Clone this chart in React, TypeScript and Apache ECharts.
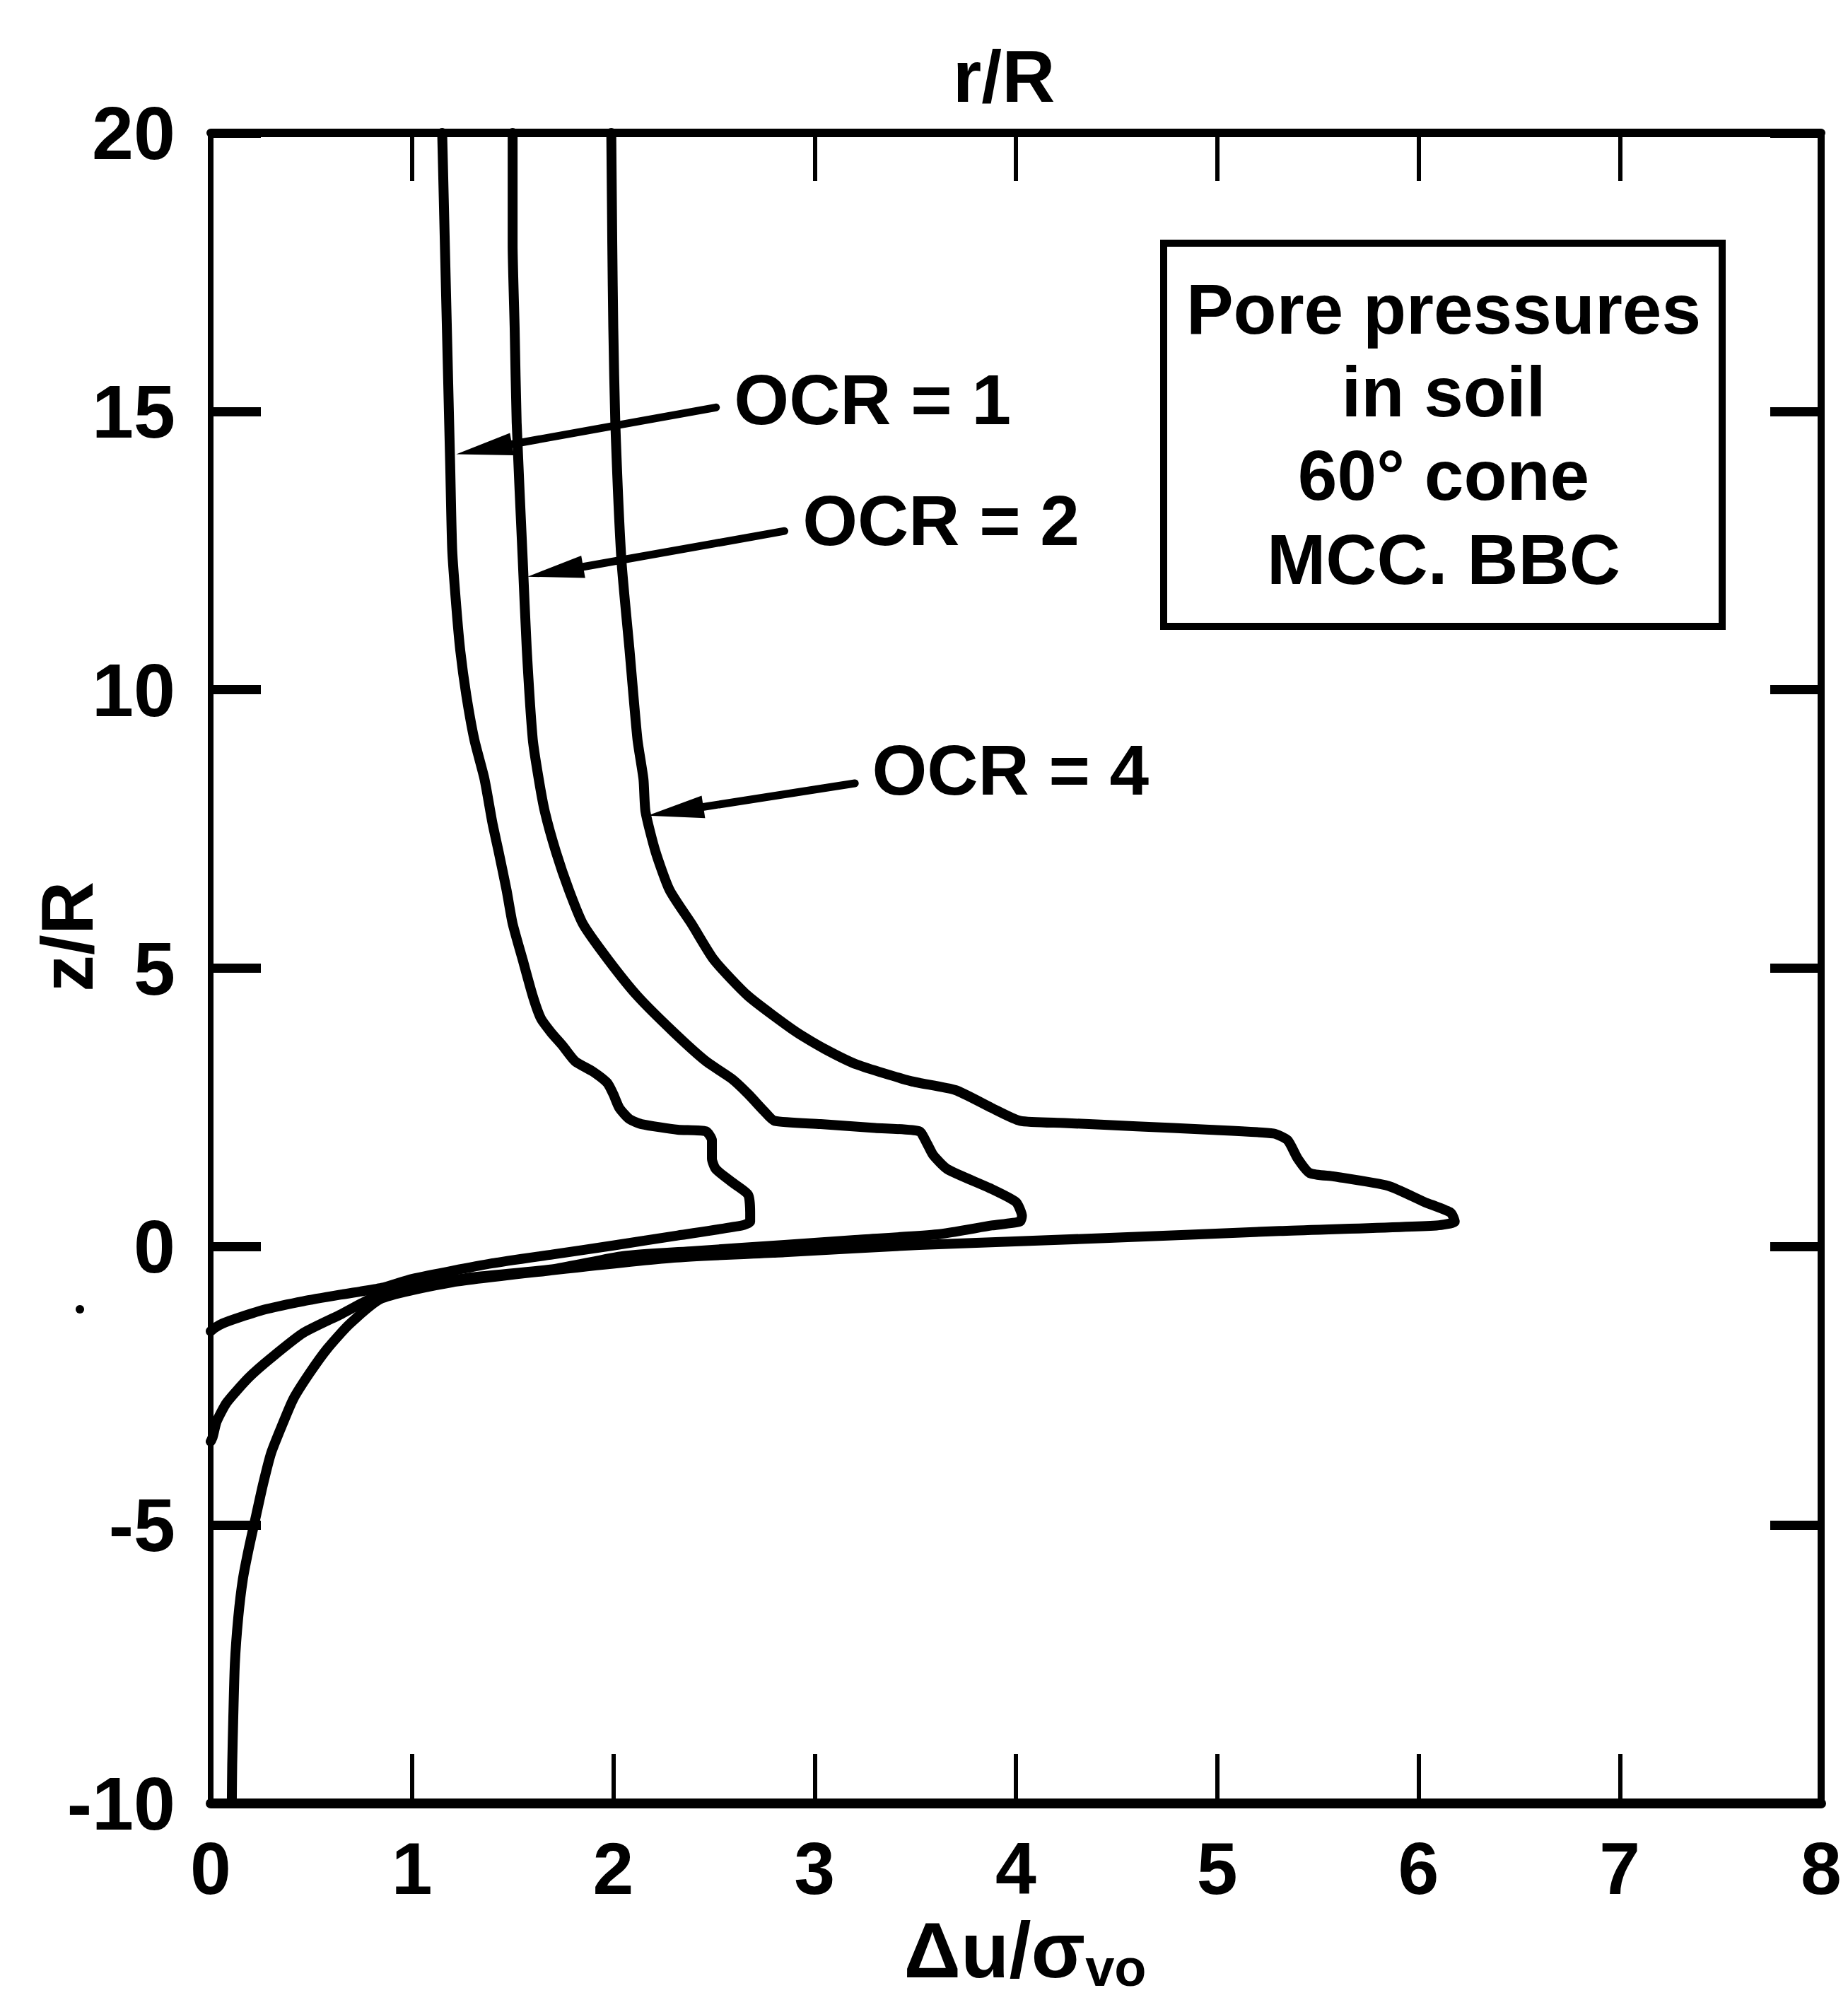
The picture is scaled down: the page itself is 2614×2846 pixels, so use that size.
import React, { useEffect, useRef } from "react";
import * as echarts from "echarts";

const FONT = "'Liberation Sans', Arial, Helvetica, sans-serif";
const WEIGHT = "bold";

// Axis ranges / ticks
const xTicks = [0, 1, 2, 3, 4, 5, 6, 7, 8];
const yTicks = [-10, -5, 0, 5, 10, 15, 20];

// Curves: [Δu/σvo, z/R]
const ocr1: number[][] = [
  [1.15, 20], [1.16, 18.5], [1.17, 17], [1.18, 15.5], [1.19, 14], [1.2, 12.5], [1.22, 11.5],
  [1.24, 10.7], [1.27, 9.9], [1.31, 9.1], [1.36, 8.4], [1.4, 7.6], [1.43, 7.1], [1.47, 6.4],
  [1.5, 5.8], [1.55, 5.15], [1.6, 4.5], [1.64, 4.1], [1.69, 3.85], [1.75, 3.6], [1.81, 3.33],
  [1.9, 3.14], [1.97, 2.94], [2.0, 2.74], [2.03, 2.49], [2.08, 2.29], [2.14, 2.2], [2.32, 2.1],
  [2.46, 2.07], [2.49, 1.91], [2.49, 1.58], [2.51, 1.39], [2.6, 1.13], [2.67, 0.93], [2.68, 0.61],
  [2.68, 0.45], [2.64, 0.38], [2.32, 0.2], [2.0, 0.02], [1.7, -0.14], [1.4, -0.3], [1.0, -0.58],
  [0.85, -0.74], [0.65, -0.86], [0.46, -0.98], [0.28, -1.12], [0.144, -1.27], [0.06, -1.38],
  [0.02, -1.46], [0, -1.52],
];

const ocr2: number[][] = [
  [1.5, 20], [1.5, 18], [1.51, 16.5], [1.52, 14.8], [1.55, 12.35], [1.57, 10.74], [1.6, 9.11],
  [1.63, 8.39], [1.66, 7.81], [1.715, 7.09], [1.78, 6.4], [1.85, 5.79], [1.975, 5.15], [2.12, 4.5],
  [2.3, 3.85], [2.46, 3.33], [2.59, 3.01], [2.67, 2.74], [2.75, 2.43], [2.8, 2.26], [3.03, 2.2],
  [3.3, 2.13], [3.52, 2.07], [3.56, 1.84], [3.59, 1.64], [3.66, 1.39], [3.87, 1.05], [4.0, 0.8],
  [4.03, 0.55], [4.02, 0.45], [3.88, 0.38], [3.61, 0.22], [3.2, 0.12], [2.85, 0.03], [2.4, -0.08],
  [2.05, -0.17], [1.71, -0.4], [1.3, -0.55], [1.06, -0.69], [0.85, -0.84], [0.65, -1.21],
  [0.46, -1.55], [0.3, -2.0], [0.19, -2.35], [0.08, -2.8], [0.03, -3.14], [0.01, -3.42], [0, -3.5],
];

const ocr4: number[][] = [
  [1.99, 20], [1.995, 18], [2.0, 16.5], [2.01, 14.8], [2.04, 12.35], [2.08, 10.74], [2.12, 9.11],
  [2.15, 8.39], [2.16, 7.81], [2.21, 7.09], [2.28, 6.4], [2.39, 5.79], [2.5, 5.15], [2.67, 4.5],
  [2.91, 3.85], [3.05, 3.55], [3.21, 3.27], [3.48, 2.97], [3.7, 2.81], [3.88, 2.49], [4.02, 2.26],
  [4.24, 2.22], [4.6, 2.16], [4.96, 2.1], [5.28, 2.03], [5.35, 1.91], [5.4, 1.58], [5.46, 1.32],
  [5.58, 1.26], [5.85, 1.09], [6.03, 0.8], [6.16, 0.61], [6.18, 0.45], [6.09, 0.38], [5.31, 0.28],
  [4.42, 0.15], [3.52, 0.03], [2.85, -0.1], [2.3, -0.2], [1.71, -0.42], [1.2, -0.64], [0.85, -0.93],
  [0.69, -1.39], [0.58, -1.83], [0.49, -2.28], [0.41, -2.74], [0.35, -3.25], [0.3, -3.71],
  [0.26, -4.27], [0.225, -4.84], [0.19, -5.41], [0.16, -5.97], [0.137, -6.66], [0.12, -7.5],
  [0.112, -8.5], [0.107, -9.3], [0.105, -10],
];

// Annotations: arrow start, arrow tip, label anchor (data coordinates)
const annotationLabels = ["OCR = 1", "OCR = 2", "OCR = 4"];
const arrowStarts = [[2.51, 15.07], [2.85, 12.85], [3.2, 8.32]];
const arrowTips = [[1.22, 14.23], [1.574, 12.03], [2.17, 7.74]];
const labelAnchors = [[2.6, 15.22], [2.94, 13.04], [3.285, 8.56]];

const boxLines = ["Pore pressures", "in soil", "60° cone", "MCC. BBC"];

export default function App() {
  const ref = useRef<HTMLDivElement>(null);

  useEffect(() => {
    if (!ref.current) return;
    const chart = echarts.init(ref.current, undefined, { renderer: "svg" });

    const annData = annotationLabels.map((_, i) => [
      arrowStarts[i][0], arrowStarts[i][1],
      arrowTips[i][0], arrowTips[i][1],
      labelAnchors[i][0], labelAnchors[i][1],
    ]);

    const lineSeries = (name: string, data: number[][]) => ({
      name,
      type: "line",
      data,
      xAxisIndex: 0,
      yAxisIndex: 0,
      showSymbol: false,
      symbol: "none",
      smooth: 0.2,
      clip: false,
      lineStyle: { color: "#000", width: 14, join: "round", cap: "round" },
      emphasis: { disabled: true },
      z: 3,
    });

    const boxCx = 2042;
    const boxLineY = [437, 554, 672, 791];

    const option: any = {
      animation: false,
      backgroundColor: "#fff",
      textStyle: { fontFamily: FONT, color: "#000", fontWeight: WEIGHT },
      grid: { left: 298, right: 38, top: 188, bottom: 295, containLabel: false, outerBoundsMode: "none" },
      xAxis: [
        {
          type: "value", position: "bottom", min: 0, max: 8, interval: 1,
          axisLine: { show: true, onZero: false, lineStyle: { color: "#000", width: 14 } },
          axisTick: { show: true, inside: true, length: 70, lineStyle: { color: "#000", width: 6 } },
          axisLabel: {
            show: true, color: "#000", fontSize: 104, fontFamily: FONT, fontWeight: WEIGHT, margin: 40,
            formatter: (v: number) => (xTicks.includes(v) ? String(v) : ""),
          },
          splitLine: { show: false },
        },
        {
          type: "value", position: "top", min: 0, max: 8, interval: 1,
          axisLine: { show: true, onZero: false, lineStyle: { color: "#000", width: 12 } },
          axisTick: { show: true, inside: true, length: 68, lineStyle: { color: "#000", width: 6 } },
          axisLabel: { show: false },
          splitLine: { show: false },
        },
      ],
      yAxis: [
        {
          type: "value", position: "left", min: -10, max: 20, interval: 5,
          axisLine: { show: true, onZero: false, lineStyle: { color: "#000", width: 8 } },
          axisTick: { show: true, inside: true, length: 71, lineStyle: { color: "#000", width: 13 } },
          axisLabel: {
            show: true, color: "#000", fontSize: 106, fontFamily: FONT, fontWeight: WEIGHT, margin: 50,
            padding: [0, 0, 20, 0],
            formatter: (v: number) => (yTicks.includes(v) ? String(v) : ""),
          },
          splitLine: { show: false },
        },
        {
          type: "value", position: "right", min: -10, max: 20, interval: 5,
          axisLine: { show: true, onZero: false, lineStyle: { color: "#000", width: 10 } },
          axisTick: { show: true, inside: true, length: 72, lineStyle: { color: "#000", width: 13 } },
          axisLabel: { show: false },
          splitLine: { show: false },
        },
      ],
      series: [
        lineSeries("OCR = 1", ocr1),
        lineSeries("OCR = 2", ocr2),
        lineSeries("OCR = 4", ocr4),
        {
          type: "custom",
          name: "annotations",
          xAxisIndex: 0,
          yAxisIndex: 0,
          clip: false,
          data: annData,
          encode: { x: [0, 2, 4], y: [1, 3, 5] },
          z: 4,
          renderItem: (params: any, api: any) => {
            const s = api.coord([api.value(0), api.value(1)]);
            const t = api.coord([api.value(2), api.value(3)]);
            const l = api.coord([api.value(4), api.value(5)]);
            const dx = t[0] - s[0];
            const dy = t[1] - s[1];
            const len = Math.hypot(dx, dy);
            const ux = dx / len;
            const uy = dy / len;
            const headLen = 80;
            const headW = 16;
            const bx = t[0] - ux * headLen;
            const by = t[1] - uy * headLen;
            return {
              type: "group",
              children: [
                {
                  type: "line",
                  shape: { x1: s[0], y1: s[1], x2: bx + ux * 20, y2: by + uy * 20 },
                  style: { stroke: "#000", lineWidth: 11, lineCap: "round" },
                },
                {
                  type: "polygon",
                  shape: {
                    points: [
                      [t[0], t[1]],
                      [bx - uy * headW, by + ux * headW],
                      [bx + uy * headW, by - ux * headW],
                    ],
                  },
                  style: { fill: "#000" },
                },
                {
                  type: "text",
                  x: l[0],
                  y: l[1],
                  style: {
                    text: annotationLabels[params.dataIndex],
                    fontSize: 100,
                    fontFamily: FONT,
                    fontWeight: WEIGHT,
                    fill: "#000",
                    align: "left",
                    textAlign: "left",
                    verticalAlign: "middle",
                    textVerticalAlign: "middle",
                  },
                },
              ],
            };
          },
        },
      ],
      graphic: [
        {
          type: "rect",
          shape: { x: 1646, y: 344, width: 790, height: 542 },
          style: { fill: "#fff", stroke: "#000", lineWidth: 10 },
          z: 10,
        },
        ...boxLines.map((txt, i) => ({
          type: "text",
          x: boxCx,
          y: boxLineY[i],
          z: 11,
          style: {
            text: txt, fontSize: 100, fontFamily: FONT, fontWeight: WEIGHT, fill: "#000",
            align: "center", textAlign: "center", verticalAlign: "middle", textVerticalAlign: "middle",
          },
        })),
        {
          type: "text",
          x: 1420,
          y: 108,
          style: {
            text: "r/R", fontSize: 104, fontFamily: FONT, fontWeight: WEIGHT, fill: "#000",
            align: "center", textAlign: "center", verticalAlign: "middle", textVerticalAlign: "middle",
          },
        },
        {
          type: "text",
          x: 95,
          y: 1325,
          rotation: Math.PI / 2,
          style: {
            text: "z/R", fontSize: 104, fontFamily: FONT, fontWeight: WEIGHT, fill: "#000",
            align: "center", textAlign: "center", verticalAlign: "middle", textVerticalAlign: "middle",
          },
        },
        {
          type: "text",
          x: 1450,
          y: 2758,
          style: {
            text: "{m|Δu/σ}{s|vo}",
            fill: "#000",
            align: "center", textAlign: "center", verticalAlign: "middle", textVerticalAlign: "middle",
            rich: {
              m: { fontSize: 112, fontFamily: FONT, fontWeight: WEIGHT, fill: "#000", lineHeight: 124, verticalAlign: "middle" },
              s: { fontSize: 74, fontFamily: FONT, fontWeight: WEIGHT, fill: "#000", lineHeight: 64, verticalAlign: "bottom" },
            },
          },
        },
        {
          type: "circle",
          shape: { cx: 113, cy: 1852, r: 6 },
          style: { fill: "#000" },
        },
      ],
    };

    chart.setOption(option);
    return () => chart.dispose();
  }, []);

  return (
    <div
      ref={ref}
      style={{ position: "absolute", left: 0, top: 0, width: 2614, height: 2846, background: "#fff" }}
    />
  );
}
